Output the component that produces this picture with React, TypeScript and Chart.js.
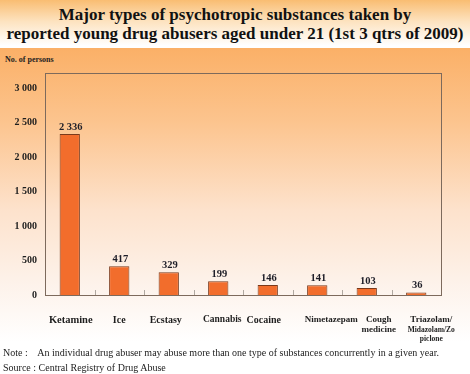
import React, { useEffect, useRef } from "react";
import { Chart, registerables } from "chart.js";

Chart.register(...registerables);

const categories: string[][] = [
  ["Ketamine"],
  ["Ice"],
  ["Ecstasy"],
  ["Cannabis"],
  ["Cocaine"],
  ["Nimetazepam"],
  ["Cough", "medicine"],
  ["Triazolam/", "Midazolam/Zo", "piclone"],
];
const persons: number[] = [2336, 417, 329, 199, 146, 141, 103, 36];
const yTicks: number[] = [0, 500, 1000, 1500, 2000, 2500, 3000];
const yMax = 3220;

const fmt = (v: number) => String(v).replace(/\B(?=(\d{3})+(?!\d))/g, " ");

const SERIF = "'Liberation Serif', 'Times New Roman', serif";

// caption styling (layout only): horizontal nudge and font size per category
const captionShift = [1, 0, -3, 4, -4, 14, 12, 15];
const captionSize = [10.5, 10, 10, 9.5, 10, 9, 9, 9];

const framePlugin = {
  id: "frame",
  afterDatasetsDraw(chart: any) {
    const { ctx } = chart;
    const meta = chart.getDatasetMeta(0);
    ctx.save();
    ctx.font = `bold 10.5px ${SERIF}`;
    ctx.fillStyle = "#1e1e28";
    ctx.textAlign = "center";
    ctx.textBaseline = "middle";
    meta.data.forEach((bar: any, i: number) => {
      ctx.fillText(fmt(persons[i]), bar.x + 1, bar.y - 7);
    });
    ctx.restore();
  },
  afterDraw(chart: any) {
    const { ctx, chartArea } = chart;
    const xs = chart.scales.x;
    ctx.save();
    // inward tick marks at category boundaries
    ctx.strokeStyle = "#b0a8a0";
    ctx.lineWidth = 1;
    for (let i = 1; i < categories.length; i++) {
      const x = Math.round((xs.getPixelForValue(i - 1) + xs.getPixelForValue(i)) / 2) + 0.5;
      ctx.beginPath();
      ctx.moveTo(x, chartArea.bottom);
      ctx.lineTo(x, chartArea.bottom - 5);
      ctx.stroke();
    }
    // frame
    ctx.strokeStyle = "#7d6a5c";
    ctx.lineWidth = 1;
    ctx.strokeRect(
      Math.round(chartArea.left) + 0.5,
      Math.round(chartArea.top) + 0.5,
      Math.round(chartArea.right - chartArea.left),
      Math.round(chartArea.bottom - chartArea.top)
    );
    // category captions
    ctx.fillStyle = "#1e1e1e";
    ctx.textAlign = "center";
    ctx.textBaseline = "middle";
    categories.forEach((lines, i) => {
      const x = xs.getPixelForValue(i) + captionShift[i];
      lines.forEach((line, j) => {
        const small = lines.length > 2 && j > 0;
        ctx.font = `bold ${small ? 7.5 : captionSize[i]}px ${SERIF}`;
        const y = chartArea.bottom + 25 + (small ? (j === 1 ? 10 : 19) : j * 10);
        ctx.fillText(line, x, y);
      });
    });
    ctx.restore();
  },
};

function BarChart() {
  const ref = useRef<HTMLCanvasElement | null>(null);
  useEffect(() => {
    if (!ref.current) return;
    const chart = new Chart(ref.current, {
      type: "bar",
      data: {
        labels: categories.map((c) => c.join(" ")),
        datasets: [
          {
            data: persons,
            backgroundColor: "#f26d2c",
            borderColor: "#7a3a1c",
            borderWidth: 1,
            categoryPercentage: 1,
            barPercentage: 0.41,
          },
        ],
      },
      options: {
        animation: false,
        responsive: false,
        maintainAspectRatio: false,
        layout: { padding: { top: 25, right: 29, left: 0, bottom: 0 } },
        plugins: {
          legend: { display: false },
          tooltip: { enabled: false },
          title: { display: false },
        },
        scales: {
          x: {
            grid: { display: false, drawTicks: false },
            border: { display: false },
            ticks: { display: false },
            afterFit: (s: any) => {
              s.height = 57;
            },
          },
          y: {
            min: 0,
            max: yMax,
            grid: { display: false, drawTicks: false },
            border: { display: false },
            afterBuildTicks: (s: any) => {
              s.ticks = yTicks.map((v) => ({ value: v }));
            },
            ticks: {
              color: "#1e1e1e",
              font: { family: SERIF, size: 10, weight: "bold" },
              padding: 8,
              callback: (v: any) => fmt(Number(v)),
            },
            afterFit: (s: any) => {
              s.width = 45;
            },
          },
        },
      },
      plugins: [framePlugin],
    });
    return () => chart.destroy();
  }, []);
  return (
    <canvas
      ref={ref}
      width={470}
      height={304}
      style={{ position: "absolute", left: 0, top: 48, width: 470, height: 304 }}
    />
  );
}

export default function App() {
  useEffect(() => {
    document.body.style.margin = "0";
  }, []);
  return (
    <div
      style={{
        position: "relative",
        width: 470,
        height: 374,
        overflow: "hidden",
        background: "#ffffff",
        fontFamily: SERIF,
      }}
    >
      <div
        style={{
          position: "absolute",
          left: 0,
          top: 0,
          width: 470,
          height: 48,
          background: "linear-gradient(#f9bd72 0%, #fde3c0 45%, #ffffff 95%)",
        }}
      />
      <div
        style={{
          position: "absolute",
          left: 0,
          top: 5,
          width: 470,
          textAlign: "center",
          fontWeight: "bold",
          fontSize: 17,
          lineHeight: "19px",
          color: "#111",
          whiteSpace: "nowrap",
        }}
      >
        Major types of psychotropic substances taken by
        <br />
        reported young drug abusers aged under 21 (1st 3 qtrs of 2009)
      </div>
      <div
        style={{
          position: "absolute",
          left: 0,
          top: 48,
          width: 470,
          height: 294,
          background:
            "linear-gradient(#fbb067 0%, #fcc48e 25%, #fde2cc 55%, #fdf2ea 80%, #ffffff 100%)",
        }}
      />
      <div
        style={{
          position: "absolute",
          left: 5,
          top: 55,
          fontSize: 8,
          fontWeight: "bold",
          color: "#1e1e1e",
        }}
      >
        No. of persons
      </div>
      <BarChart />
      <div
        style={{
          position: "absolute",
          left: 3,
          top: 345,
          fontSize: 10,
          lineHeight: "15px",
          color: "#222",
          whiteSpace: "nowrap",
        }}
      >
        <div>
          Note :&nbsp;&nbsp;&nbsp; An individual drug abuser may abuse more than one type of substances
          concurrently in a given year.
        </div>
        <div>Source : Central Registry of Drug Abuse</div>
      </div>
    </div>
  );
}
